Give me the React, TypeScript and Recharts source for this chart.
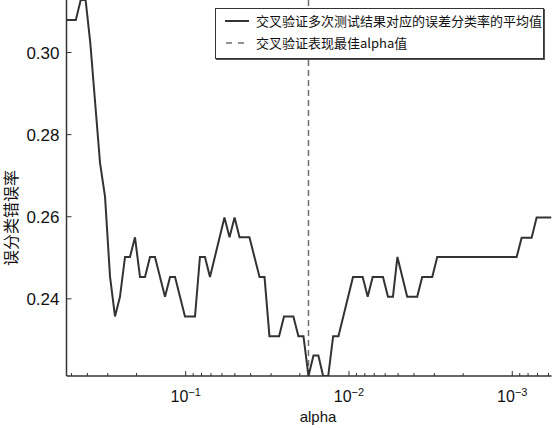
import { LineChart, Line, XAxis, YAxis, ReferenceLine, Label } from "recharts";

// vertices of the mean CV error curve (alpha decreasing left to right)
const ALPHAS = [
  0.537, 0.471, 0.4395, 0.4102, 0.3838, 0.3347, 0.3119, 0.2907, 0.271, 0.2526,
  0.2353, 0.2194, 0.2044, 0.1905, 0.1775, 0.1654, 0.1542, 0.1339, 0.1247, 0.1162,
  0.101, 0.0877, 0.0818, 0.0762, 0.071, 0.0579, 0.0539, 0.0502, 0.0468, 0.0407,
  0.0353, 0.0329, 0.0307, 0.0268, 0.025, 0.0219, 0.0204, 0.019, 0.0177, 0.0165,
  0.0154, 0.0144, 0.0134, 0.0125, 0.0116, 0.00945, 0.00824, 0.00768, 0.00716, 0.00619,
  0.00577, 0.00538, 0.00505, 0.0044, 0.00382, 0.00356, 0.00309, 0.00288, 0.00094, 0.000876,
  0.000761, 0.000709, 0.000575,
];
const ERRORS = [
  0.3079, 0.3079, 0.3128, 0.3128, 0.3023, 0.2731, 0.2649, 0.2454, 0.2357, 0.2405,
  0.2502, 0.2502, 0.255, 0.2453, 0.2453, 0.2502, 0.2502, 0.2405, 0.2453, 0.2453,
  0.2357, 0.2357, 0.2502, 0.2502, 0.2453, 0.2598, 0.255, 0.2598, 0.255, 0.255,
  0.2453, 0.2453, 0.2309, 0.2309, 0.2357, 0.2357, 0.2309, 0.2309, 0.2212, 0.2262,
  0.2262, 0.2212, 0.2212, 0.2309, 0.2309, 0.2453, 0.2453, 0.2405, 0.2453, 0.2453,
  0.2405, 0.2405, 0.2502, 0.2405, 0.2405, 0.2453, 0.2453, 0.2502, 0.2502, 0.2549,
  0.2549, 0.2598, 0.2598,
];
const BEST_ALPHA = 0.0177;

const Y_TICKS = [0.24, 0.26, 0.28, 0.3];
const Y_TICK_LABELS = ["0.24", "0.26", "0.28", "0.30"];
const X_MAJOR_TICKS = [0.1, 0.01, 0.001];
const X_MAJOR_EXPONENTS = ["\u22121", "\u22122", "\u22123"];
const LEGEND_LABELS = [
  "交叉验证多次测试结果对应的误差分类率的平均值",
  "交叉验证表现最佳alpha值",
];
const X_LABEL = "alpha";
const Y_LABEL = "误分类错误率";

const X_DOMAIN = [0.000575, 0.537];
const Y_DOMAIN = [0.2212, 0.3128];

const X_MINOR_TICKS = [0.1, 0.01, 0.001, 0.0001]
  .flatMap((d) => [2, 3, 4, 5, 6, 7, 8, 9].map((m) => +(m * d).toPrecision(3)))
  .filter((v) => v > X_DOMAIN[0] && v < X_DOMAIN[1]);
const ALL_X_TICKS = [...X_MAJOR_TICKS, ...X_MINOR_TICKS].sort((a, b) => b - a);

const FONT = "'Liberation Sans', Arial, Helvetica, sans-serif";
const CJK = "'Noto Sans CJK SC', 'Noto Sans', sans-serif";
const AXIS = "#333";

const data = ALPHAS.map((alpha, i) => ({ alpha, err: ERRORS[i] }));

const BottomTick = (props: any) => {
  const { x, y, payload } = props;
  const idx = X_MAJOR_TICKS.indexOf(payload.value);
  const major = idx >= 0;
  return (
    <g>
      <line x1={x} x2={x} y1={y} y2={y - (major ? 5 : 3)} stroke={AXIS} strokeWidth={1} />
      {major && (
        <text x={x} y={y + 26} textAnchor="middle" fontFamily={FONT} fontSize={16} fill="#111">
          10
          <tspan dy={-6} fontSize={11}>
            {X_MAJOR_EXPONENTS[idx]}
          </tspan>
        </text>
      )}
    </g>
  );
};

const TopTick = (props: any) => {
  const { x, y, payload } = props;
  const major = X_MAJOR_TICKS.indexOf(payload.value) >= 0;
  return <line x1={x} x2={x} y1={y} y2={y + (major ? 5 : 3)} stroke={AXIS} strokeWidth={1} />;
};

const LeftTick = (props: any) => {
  const { x, y, payload } = props;
  const idx = Y_TICKS.indexOf(payload.value);
  return (
    <g>
      <line x1={x} x2={x + 5} y1={y} y2={y} stroke={AXIS} strokeWidth={1} />
      <text x={x - 7} y={y} dy="0.36em" textAnchor="end" fontFamily={FONT} fontSize={17} fill="#111">
        {Y_TICK_LABELS[idx]}
      </text>
    </g>
  );
};

const RightTick = (props: any) => {
  const { x, y } = props;
  return <line x1={x} x2={x - 5} y1={y} y2={y} stroke={AXIS} strokeWidth={1} />;
};

function LegendBox() {
  return (
    <div
      style={{
        position: "absolute",
        left: 215,
        top: 8,
        width: 327,
        height: 49,
        border: `1.5px solid ${AXIS}`,
        background: "#fff",
        boxShadow: "1px 1px 0 #555",
      }}
    >
      <svg width={327} height={49} style={{ position: "absolute", left: 0, top: 0 }}>
        <line x1={9} x2={33} y1={12} y2={12} stroke="#333" strokeWidth={2} />
        <line x1={10} x2={33} y1={34} y2={34} stroke="#6e6e6e" strokeWidth={1.5} strokeDasharray="6 6" />
        <text x={40} y={12} dy="0.36em" fontFamily={CJK} fontSize={13} fill="#111">
          {LEGEND_LABELS[0]}
        </text>
        <text x={40} y={34} dy="0.36em" fontFamily={CJK} fontSize={13} fill="#111">
          {LEGEND_LABELS[1]}
        </text>
      </svg>
    </div>
  );
}

export default function App() {
  return (
    <div style={{ position: "absolute", left: 0, top: 0, width: 553, height: 428, background: "#fff" }}>
      <LineChart width={553} height={428} data={data} margin={{ top: 0, right: 1.5, bottom: 0, left: 0.5 }}>
        <XAxis
          xAxisId="bottom"
          dataKey="alpha"
          type="number"
          scale="log"
          domain={X_DOMAIN}
          reversed
          allowDataOverflow
          ticks={ALL_X_TICKS}
          interval={0}
          tick={BottomTick}
          tickLine={false}
          tickSize={0}
          tickMargin={0}
          height={52}
          axisLine={{ stroke: AXIS, strokeWidth: 1.5 }}
        >
          <Label
            content={() => (
              <text x={318} y={422} textAnchor="middle" fontFamily={FONT} fontSize={15} fill="#111">
                {X_LABEL}
              </text>
            )}
          />
        </XAxis>
        <XAxis
          xAxisId="top"
          orientation="top"
          dataKey="alpha"
          type="number"
          scale="log"
          domain={X_DOMAIN}
          reversed
          allowDataOverflow
          ticks={ALL_X_TICKS}
          interval={0}
          tick={TopTick}
          tickLine={false}
          tickSize={0}
          tickMargin={0}
          height={0}
          axisLine={{ stroke: AXIS, strokeWidth: 1.5 }}
        />
        <YAxis
          yAxisId="left"
          type="number"
          domain={Y_DOMAIN}
          allowDataOverflow
          ticks={Y_TICKS}
          interval={0}
          tick={LeftTick}
          tickLine={false}
          tickSize={0}
          tickMargin={0}
          width={66}
          axisLine={{ stroke: AXIS, strokeWidth: 1.5 }}
        >
          <Label
            content={() => (
              <text
                x={11}
                y={218}
                transform="rotate(-90 11 218)"
                textAnchor="middle"
                dy="0.36em"
                fontFamily={CJK}
                fontSize={16}
                fill="#111"
              >
                {Y_LABEL}
              </text>
            )}
          />
        </YAxis>
        <YAxis
          yAxisId="right"
          orientation="right"
          type="number"
          domain={Y_DOMAIN}
          allowDataOverflow
          ticks={Y_TICKS}
          interval={0}
          tick={RightTick}
          tickLine={false}
          tickSize={0}
          tickMargin={0}
          width={0}
          axisLine={{ stroke: AXIS, strokeWidth: 1.5 }}
        />
        <ReferenceLine
          xAxisId="bottom"
          yAxisId="left"
          x={BEST_ALPHA}
          stroke="#6e6e6e"
          strokeWidth={1.5}
          strokeDasharray="6 4"
        />
        <Line
          xAxisId="bottom"
          yAxisId="left"
          type="linear"
          dataKey="err"
          stroke="#333"
          strokeWidth={2}
          dot={false}
          isAnimationActive={false}
        />
      </LineChart>
      <LegendBox />
    </div>
  );
}
